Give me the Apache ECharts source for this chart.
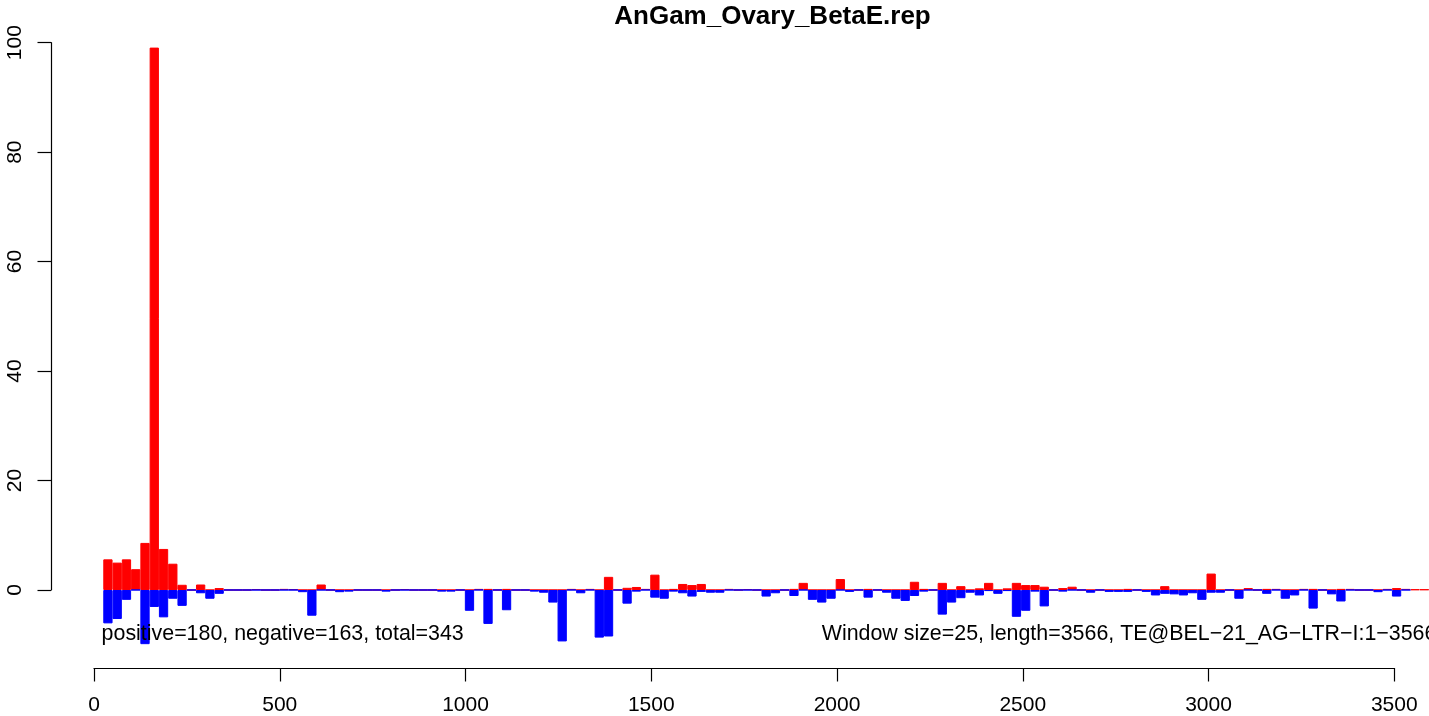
<!DOCTYPE html>
<html><head><meta charset="utf-8">
<script src="https://cdn.jsdelivr.net/npm/echarts@6/dist/echarts.min.js"></script>
<style>html,body{margin:0;padding:0;background:#fff}#c{width:1429px;height:716px}</style>
</head><body><div id="c"></div>
<script>
const chartTitle = 'AnGam_Ovary_BetaE.rep';
const windowSize = 25;
// red: positive-strand counts per 25-bp window (windows 1..143)
const positive = [
  5.6, 5.0, 5.6, 3.8, 8.6, 99.1, 7.5, 4.8, 0.95, 0,
  1.0, 0, 0.35, 0, 0, 0, 0.15, 0, 0, 0.2,
  0.15, 0, 0, 1.0, 0, 0, 0, 0, 0, 0,
  0, 0, 0.15, 0, 0, 0, 0, 0, 0, 0,
  0.2, 0.2, 0, 0.2, 0, 0, 0, 0, 0, 0,
  0.2, 0, 0.2, 0, 2.4, 0, 0.4, 0.55, 0.2, 2.8,
  0, 0.2, 1.1, 0.9, 1.1, 0, 0, 0.2, 0, 0.15,
  0, 0, 0, 0, 0.2, 1.3, 0, 0, 0, 2.0,
  0, 0, 0.2, 0, 0, 0, 0, 1.5, 0.2, 0,
  1.3, 0, 0.7, 0, 0.3, 1.3, 0, 0.3, 1.3, 0.9,
  0.9, 0.6, 0, 0.35, 0.6, 0, 0, 0, 0, 0,
  0.2, 0, 0, 0, 0.7, 0, 0, 0, 0, 3.0,
  0, 0, 0, 0.35, 0, 0.2, 0.2, 0, 0, 0.2,
  0.2, 0, 0, 0.2, 0.2, 0, 0, 0, 0.2, 0.35,
  0.2, 0.1, 0.1
];
// blue: negative-strand counts per window
const negative = [
  -6.1, -5.3, -1.8, 0, -9.9, -3.1, -5.0, -1.6, -2.9, 0,
  -0.6, -1.6, -0.7, 0, 0, 0, 0, 0, 0, 0,
  0, -0.4, -4.7, 0, 0, -0.4, -0.3, 0, 0, 0,
  -0.3, 0, 0, 0, 0, 0, -0.3, -0.3, 0, -3.8,
  0, -6.2, 0, -3.7, 0, 0, -0.3, -0.5, -2.3, -9.4,
  0, -0.6, 0, -8.7, -8.5, 0, -2.5, -0.3, 0, -1.4,
  -1.6, -0.3, -0.6, -1.2, -0.35, -0.5, -0.5, 0, 0, 0,
  0, -1.2, -0.6, 0, -1.1, 0, -1.8, -2.3, -1.6, 0,
  -0.35, 0, -1.4, 0, -0.5, -1.6, -2.0, -1.1, -0.3, 0,
  -4.5, -2.3, -1.5, -0.5, -1.0, -0.2, -0.7, -0.2, -4.9, -3.8,
  -0.3, -3.0, 0, -0.3, 0, 0, -0.5, 0, -0.35, -0.35,
  -0.35, 0, -0.35, -1.0, -0.7, -0.8, -1.0, -0.6, -1.8, -0.5,
  -0.5, 0, -1.6, 0, 0, -0.7, 0, -1.6, -1.0, 0,
  -3.4, 0, -0.8, -2.1, 0, 0, 0, -0.4, 0, -1.2,
  0, null, null
];
const xTicks = [0, 500, 1000, 1500, 2000, 2500, 3000, 3500];
const yTicks = [0, 20, 40, 60, 80, 100];
const yRange = [-14.4, 104.4];
const statsText = 'positive=180, negative=163, total=343';
const infoText = 'Window size=25, length=3566, TE@BEL\u221221_AG\u2212LTR\u2212I:1\u22123566';

const windowStarts = positive.map((_, i) => String((i + 1) * windowSize));

const FONT = 'Liberation Sans';
const pxPerUnit = 1300.3 / (xTicks[xTicks.length - 1] - xTicks[0]);
const x0 = 94;
const axisLineStyle = { color: '#000', width: 1.2 };

const chart = echarts.init(document.getElementById('c'));
chart.setOption({
  animation: false,
  backgroundColor: '#fff',
  textStyle: { fontFamily: FONT },
  title: {
    text: chartTitle, left: 767.5, top: -1, textAlign: 'center',
    textStyle: { fontSize: 26, fontWeight: 'bold', color: '#000', fontFamily: FONT }
  },
  grid: [
    { left: x0 + windowSize * pxPerUnit, width: windowStarts.length * windowSize * pxPerUnit, top: 18.6, height: 650.2 },
    { left: 51, width: 10, top: 42.7, height: 547.3 },
    { left: x0, width: 1300.3, top: 600, height: 68.3 }
  ],
  xAxis: [
    { gridIndex: 0, type: 'category', data: windowStarts, boundaryGap: true, show: false },
    { gridIndex: 1, type: 'value', show: false },
    { gridIndex: 2, type: 'value', position: 'bottom', min: xTicks[0], max: xTicks[xTicks.length - 1],
      interval: xTicks[1] - xTicks[0],
      axisLine: { show: true, lineStyle: axisLineStyle },
      axisTick: { show: true, length: 13.5, inside: false, lineStyle: axisLineStyle },
      axisLabel: { show: true, margin: 27, fontSize: 21, color: '#000', fontFamily: FONT,
        formatter: v => String(v) },
      splitLine: { show: false } }
  ],
  yAxis: [
    { gridIndex: 0, type: 'value', min: yRange[0], max: yRange[1], show: false },
    { gridIndex: 1, type: 'value', position: 'left', min: yTicks[0], max: yTicks[yTicks.length - 1],
      interval: yTicks[1] - yTicks[0],
      axisLine: { show: true, lineStyle: axisLineStyle },
      axisTick: { show: true, length: 13.5, inside: false, lineStyle: axisLineStyle },
      axisLabel: { show: true, rotate: 90, margin: 25.5, fontSize: 21, color: '#000', fontFamily: FONT,
        formatter: v => String(v) },
      splitLine: { show: false } },
    { gridIndex: 2, type: 'value', show: false }
  ],
  series: [
    { type: 'bar', name: 'positive', xAxisIndex: 0, yAxisIndex: 0, data: positive,
      barWidth: '100%', barGap: '-100%', z: 2,
      itemStyle: { color: '#FF0000', borderColor: '#FF0000', borderWidth: 1 } },
    { type: 'bar', name: 'negative', xAxisIndex: 0, yAxisIndex: 0, data: negative,
      barWidth: '100%', barGap: '-100%', z: 3,
      itemStyle: { color: '#0000FF', borderColor: '#0000FF', borderWidth: 1 } }
  ],
  graphic: [
    { type: 'text', x: 101.6, y: 634, silent: true, z: 100,
      style: { text: statsText, fill: '#000', font: '21.4px "' + FONT + '"', align: 'left', verticalAlign: 'middle' } },
    { type: 'text', x: 821.7, y: 634, silent: true, z: 100,
      style: { text: infoText, fill: '#000', font: '21.4px "' + FONT + '"', align: 'left', verticalAlign: 'middle' } }
  ]
});
</script></body></html>
